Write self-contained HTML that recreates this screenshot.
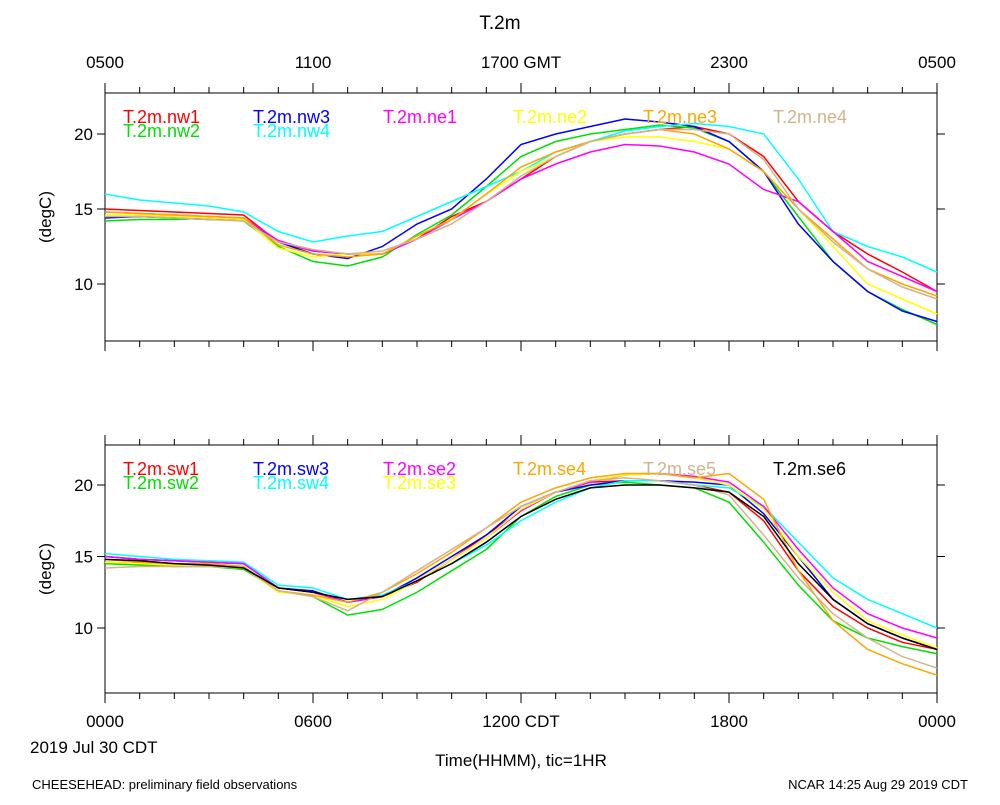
<!DOCTYPE html>
<html><head><meta charset="utf-8"><style>
body{margin:0;background:#fff;}
svg text{font-family:"Liberation Sans",sans-serif;}
</style></head><body>
<svg id="chart" width="1000" height="800" xmlns="http://www.w3.org/2000/svg">
<rect width="1000" height="800" fill="#fff"/>
<text x="500" y="29" font-size="19" text-anchor="middle">T.2m</text>
<text x="30" y="753" font-size="17">2019 Jul 30 CDT</text>
<text x="521" y="766" font-size="17" text-anchor="middle">Time(HHMM), tic=1HR</text>
<text x="32" y="789" font-size="13">CHEESEHEAD: preliminary field observations</text>
<text x="968" y="789" font-size="13" text-anchor="end">NCAR 14:25 Aug 29 2019 CDT</text>
<g id="g"></g>
</svg>
<script>
const hours=[0,1,2,3,4,5,6,7,8,9,10,11,12,13,14,15,16,17,18,19,20,21,22,23,24];
const topTicks=["0500","1100","1700 GMT","2300","0500"];
const botTicks=["0000","0600","1200 CDT","1800","0000"];
const yTicks=[10,15,20];
const topNames=["T.2m.nw1","T.2m.nw2","T.2m.nw3","T.2m.nw4","T.2m.ne1","T.2m.ne2","T.2m.ne3","T.2m.ne4"];
const topColors=["#ff0000","#00e000","#0000ff","#00ffff","#ff00ff","#ffff00","#ffa500","#d2b48c"];
const nw1=[15,14.9,14.8,14.7,14.6,12.8,12.2,12,12,13,14.5,15.5,17,18.5,19.5,20,20.3,20.5,20,18.5,15.5,13.5,12,10.8,9.5];
const nw2=[14.2,14.3,14.3,14.4,14.2,12.5,11.5,11.2,11.8,13.3,14.6,16.5,18.5,19.5,20,20.3,20.6,20.4,19.5,17.5,14.5,11.5,9.5,8.3,7.3];
const nw3=[14.4,14.5,14.4,14.3,14.3,12.8,12,11.7,12.5,14,15,17,19.3,20,20.5,21,20.8,20.5,19.5,17.5,14,11.5,9.5,8.2,7.5];
const nw4=[16,15.6,15.4,15.2,14.8,13.5,12.8,13.2,13.5,14.5,15.5,16.5,17.5,18.8,19.5,20.2,20.5,20.7,20.5,20,17,13.5,12.5,11.8,10.8];
const ne1=[14.8,14.7,14.6,14.5,14.4,12.9,12.2,12,12,13,14.3,15.5,17,18,18.8,19.3,19.2,18.8,18,16.3,15.5,13.5,11.5,10.5,9.5];
const ne2=[14.6,14.6,14.5,14.4,14.3,12.4,11.8,12,12,13.2,14.3,16,17.5,18.5,19.5,19.8,19.8,19.5,19,17.5,15,12.5,10,9,8];
const ne3=[14.8,14.7,14.6,14.5,14.4,12.6,12,11.8,12,13.2,14.3,16,17.8,18.8,19.5,20,20.3,20,19,17.5,15,13,11,10,9.2];
const ne4=[14.5,14.5,14.4,14.3,14.2,12.8,12.3,12,12.2,13,14,15.5,17.2,18.5,19.5,20,20.3,20.3,20,18.3,15,12.8,11,9.8,9];
const botNames=["T.2m.sw1","T.2m.sw2","T.2m.sw3","T.2m.sw4","T.2m.se2","T.2m.se3","T.2m.se4","T.2m.se5","T.2m.se6"];
const botColors=["#ff0000","#00e000","#0000ff","#00ffff","#ff00ff","#ffff00","#ffa500","#d2b48c","#000000"];
const sw1=[14.6,14.5,14.4,14.4,14.2,12.8,12.5,11.8,12.2,13.2,14.8,16.5,18.2,19.5,20.2,20.3,20.3,20,19.5,17.5,14,11.5,10,9,8.5];
const sw2=[14.5,14.4,14.3,14.3,14.1,12.6,12.2,10.9,11.3,12.5,14,15.5,17.8,19.2,20,20.2,20,19.8,18.8,16,13,10.5,9.3,8.7,8.2];
const sw3=[15,14.8,14.7,14.6,14.5,12.8,12.6,11.8,12.2,13.5,15,16.5,18.5,19.5,20,20.3,20.3,20.2,20,18,15,12,10.3,9.3,8.5];
const sw4=[15.2,15,14.8,14.7,14.6,13,12.8,12,12.3,13.3,14.5,15.8,17.5,18.8,19.8,20.3,20.3,20,19.8,18.5,16,13.5,12,11,10];
const se2=[15,14.8,14.7,14.6,14.5,12.8,12.5,11.8,12.2,13.3,14.8,16.3,18.2,19.5,20.2,20.7,20.8,20.6,20.2,18.5,15.5,12.8,11,10,9.3];
const se3=[14.6,14.5,14.4,14.3,14.2,12.5,12.3,11.5,12,13.3,14.8,16.3,18.3,19.5,20.3,20.7,20.8,20.5,20,18.3,15,12.5,10.5,9.5,8.6];
const se4=[14.8,14.6,14.5,14.5,14.3,12.6,12.3,11.8,12.5,13.8,15.3,17,18.8,19.8,20.5,20.8,20.8,20.5,20.8,19,14,10.5,8.5,7.5,6.7];
const se5=[14.2,14.3,14.3,14.3,14.2,12.6,12.2,11.2,12.5,14,15.5,17,18.5,19.5,20.3,20.5,20.3,20,19.3,16.5,13.5,11,9.3,8,7.2];
const se6=[14.8,14.7,14.5,14.4,14.2,12.8,12.5,12,12.2,13.3,14.5,16,17.8,19,19.8,20,20,19.8,19.5,17.8,14.5,12,10.3,9.3,8.5];
const topSeries=[nw1,nw2,nw3,nw4,ne1,ne2,ne3,ne4];
const botSeries=[sw1,sw2,sw3,sw4,se2,se3,se4,se5,se6];

const NS="http://www.w3.org/2000/svg";
const G=document.getElementById('g');
const X0=105,X1=937;
const xs=h=>X0+(X1-X0)*h/24;
function mk(tag,attrs,parent){const e=document.createElementNS(NS,tag);for(const k in attrs)e.setAttribute(k,attrs[k]);(parent||G).appendChild(e);return e;}

function panel(key,y0,y1,v20,pxPerDeg,series,names,colors,topLabels,botLabels,legCols,legRows){
  const ys=v=>v20+(20-v)*pxPerDeg;
  const g=mk('g',{});
  
  
  const fr=mk('rect',{x:X0,y:y0,width:X1-X0,height:y1-y0,fill:'none',stroke:'#000','stroke-width':1},g);
  
  
  for(let h=0;h<=24;h++){
    const L=h%6===0?10:6,x=xs(h);
    mk('line',{x1:x,x2:x,y1:y0,y2:y0-L,stroke:'#000'},g);
    mk('line',{x1:x,x2:x,y1:y1,y2:y1+L,stroke:'#000'},g);
  }
  yTicks.forEach(v=>{
    const y=ys(v);
    mk('line',{x1:X0-8,x2:X0,y1:y,y2:y,stroke:'#000'},g);
    mk('line',{x1:X1,x2:X1+8,y1:y,y2:y,stroke:'#000'},g);
    const t=mk('text',{x:X0-12,y:y+6,'font-size':17,'text-anchor':'end'},g);t.textContent=v;
    
    
  });
  const yl=mk('text',{x:0,y:0,'font-size':17,'text-anchor':'middle',transform:`translate(51,${(y0+y1)/2}) rotate(-90)`},g);
  yl.textContent='(degC)';
  
  
  if(topLabels)topLabels.forEach((s,i)=>{const t=mk('text',{x:xs(i*6),y:y0-25,'font-size':17,'text-anchor':'middle'},g);t.textContent=s;
    
    });
  if(botLabels)botLabels.forEach((s,i)=>{const t=mk('text',{x:xs(i*6),y:y1+34,'font-size':17,'text-anchor':'middle'},g);t.textContent=s;
    
    });
  series.forEach((d,i)=>{
    const p=mk('polyline',{points:d.map((v,j)=>xs(hours[j])+','+ys(v)).join(' '),fill:'none',stroke:colors[i],'stroke-width':1.5},g);
    
    
  });
  names.forEach((n,i)=>{
    const cx=123+legCols[i]*130, cy=y0+30+legRows[i]*14;
    const t=mk('text',{x:cx,y:cy,'font-size':18,fill:colors[i]},g);t.textContent=n;
    
    
  });
}
panel('top',93,341,134,15,topSeries,topNames,topColors,topTicks,null,[0,0,1,1,2,3,4,5],[0,1,0,1,0,0,0,0]);
panel('bottom',445,693,485,14.3,botSeries,botNames,botColors,null,botTicks,[0,0,1,1,2,2,3,4,5],[0,1,0,1,0,1,0,0,0]);
</script>
</body></html>
